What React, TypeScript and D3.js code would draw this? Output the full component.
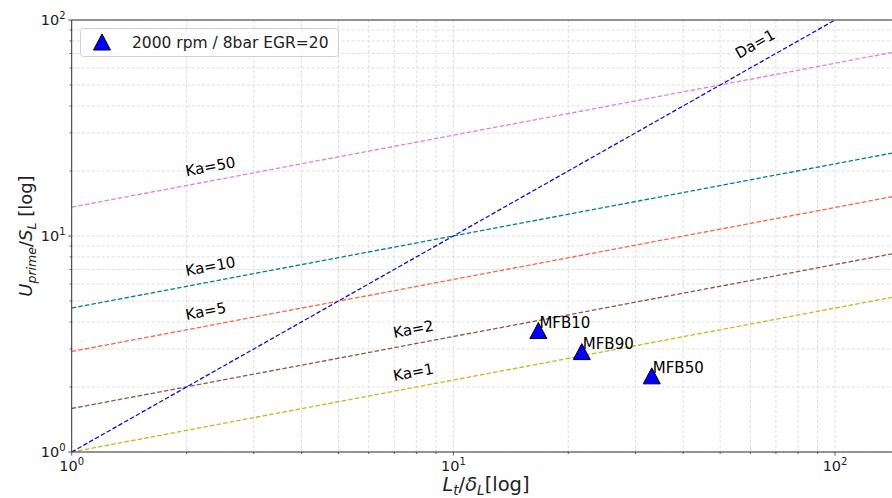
import React from "react";
import { scaleLog, line } from "d3";

// Ka iso-lines: values read at the left (x=1) and right (x≈141) edges
const kaLabels = ["Ka=1", "Ka=2", "Ka=5", "Ka=10", "Ka=50"];
const kaStart = [1, 1.59, 2.92, 4.64, 13.6];
const kaEnd = [5.2, 8.27, 15.2, 24.2, 70.7];
const kaColors = ["#bcbd22", "#8c564b", "#ff6347", "#008080", "#e47ee4"];
const kaLabelX = [7, 7, 2, 2, 2];
const kaLabelY = [2.13, 3.37, 4.08, 6.53, 18.9];

// Da=1 line
const daStart = [1, 1];
const daEnd = [141, 141];
const daLabelPos = [56, 66];

// measured points
const pointNames = ["MFB10", "MFB90", "MFB50"];
const pointX = [16.7, 21.7, 33.1];
const pointY = [3.63, 2.9, 2.24];

const legendText = "2000 rpm / 8bar EGR=20";
const xDomain = [1, 141];
const yDomain = [1, 100];
const majorTicks = [1, 10, 100];
const exps = ["0", "1", "2"];

const W = 892;
const H = 498;
const left = 71.7;
const right = 892;
const top = 20;
const bottom = 452;

export default function App() {
  const x = scaleLog().domain(xDomain).range([left, right]);
  const y = scaleLog().domain(yDomain).range([bottom, top]);
  const path = line<number[]>().x((d) => x(d[0])).y((d) => y(d[1]));

  const minorX: number[] = [];
  const minorY: number[] = [];
  [1, 10, 100].forEach((dec) => {
    for (let k = 2; k <= 9; k++) {
      if (dec * k <= xDomain[1]) minorX.push(dec * k);
      if (dec * k <= yDomain[1]) minorY.push(dec * k);
    }
  });

  const font = "'DejaVu Sans', sans-serif";
  const decadePx = (right - left) / Math.log10(xDomain[1]);
  const kaAngle = (-Math.atan(((1 / 3) * (bottom - top)) / 2 / decadePx) * 180) / Math.PI;
  const daAngle = (-Math.atan((bottom - top) / 2 / decadePx) * 180) / Math.PI;
  const tri = "M0,-8.5L8.5,7.5L-8.5,7.5Z";

  return (
    <div>
      <style>{`body{margin:0}`}</style>
      <svg width={W} height={H} style={{ display: "block", fontFamily: font }}>
        <rect width={W} height={H} fill="#fff" />
        <defs>
          <clipPath id="plot">
            <rect x={left} y={top} width={right - left} height={bottom - top} />
          </clipPath>
        </defs>

        {/* grid */}
        <g stroke="#d6d6d6" strokeWidth={0.8} strokeDasharray="3,2">
          {[...majorTicks, ...minorX].filter((v) => v <= xDomain[1]).map((v, i) => (
            <line key={"gx" + i} x1={x(v)} x2={x(v)} y1={top} y2={bottom} />
          ))}
          {[...majorTicks, ...minorY].map((v, i) => (
            <line key={"gy" + i} x1={left} x2={right} y1={y(v)} y2={y(v)} />
          ))}
        </g>

        {/* lines */}
        <g clipPath="url(#plot)" fill="none" strokeWidth={1.3} strokeDasharray="4.5,2.2">
          {kaLabels.map((k, i) => (
            <path key={k} d={path([[xDomain[0], kaStart[i]], [xDomain[1], kaEnd[i]]]) || ""} stroke={kaColors[i]} />
          ))}
          <path d={path([daStart, daEnd]) || ""} stroke="#1010cc" />
        </g>

        {/* line labels */}
        <g fontSize={15} fill="#000">
          {kaLabels.map((k, i) => (
            <text key={k} transform={`translate(${x(kaLabelX[i])},${y(kaLabelY[i])}) rotate(${kaAngle})`}>{k}</text>
          ))}
          <text transform={`translate(${x(daLabelPos[0])},${y(daLabelPos[1])}) rotate(${daAngle})`}>Da=1</text>
        </g>

        {/* points */}
        {pointNames.map((n, i) => (
          <g key={n}>
            <path d={tri} transform={`translate(${x(pointX[i])},${y(pointY[i])})`} fill="#0000ff" stroke="#000" strokeWidth={1} />
            <text x={x(pointX[i]) + 1} y={y(pointY[i]) - 3} fontSize={15}>{n}</text>
          </g>
        ))}

        {/* spines */}
        <g stroke="#333" strokeWidth={1}>
          <line x1={left} x2={left} y1={top} y2={bottom} />
          <line x1={left} x2={right} y1={bottom} y2={bottom} />
          <line x1={left} x2={right} y1={top} y2={top} />
        </g>

        {/* ticks */}
        <g stroke="#333" strokeWidth={0.8}>
          {majorTicks.map((v, i) => (
            <g key={"t" + i}>
              <line x1={x(v)} x2={x(v)} y1={bottom} y2={bottom + 3.5} />
              <line x1={left - 3.5} x2={left} y1={y(v)} y2={y(v)} />
            </g>
          ))}
          {minorX.map((v, i) => (
            <line key={"mx" + i} x1={x(v)} x2={x(v)} y1={bottom} y2={bottom + 2} />
          ))}
          {minorY.map((v, i) => (
            <line key={"my" + i} x1={left - 2} x2={left} y1={y(v)} y2={y(v)} />
          ))}
        </g>

        {/* tick labels */}
        <g fill="#222" fontSize={14.5}>
          {majorTicks.map((v, i) => (
            <text key={"xl" + i} x={x(v)} y={bottom + 19} textAnchor="middle">
              10<tspan dy={-6} fontSize={10}>{exps[i]}</tspan>
            </text>
          ))}
          {majorTicks.map((v, i) => (
            <text key={"yl" + i} x={left - 6} y={y(v) + 5} textAnchor="end">
              10<tspan dy={-6} fontSize={10}>{exps[i]}</tspan>
            </text>
          ))}
        </g>

        {/* axis labels */}
        <text x={486} y={491} textAnchor="middle" fontSize={19.5} fill="#222">
          <tspan fontStyle="italic">L</tspan>
          <tspan fontStyle="italic" fontSize={13.5} dy={4}>t</tspan>
          <tspan dy={-4}>/</tspan>
          <tspan fontStyle="italic">δ</tspan>
          <tspan fontStyle="italic" fontSize={13.5} dy={4}>L</tspan>
          <tspan dy={-4}>[log]</tspan>
        </text>
        <text transform={`translate(32,236) rotate(-90)`} textAnchor="middle" fontSize={18} fill="#222">
          <tspan fontStyle="italic">U</tspan>
          <tspan fontStyle="italic" fontSize={12.5} dy={4}>prime</tspan>
          <tspan dy={-4}>/</tspan>
          <tspan fontStyle="italic">S</tspan>
          <tspan fontStyle="italic" fontSize={12.5} dy={4}>L</tspan>
          <tspan dy={-4}> [log]</tspan>
        </text>

        {/* legend */}
        <g>
          <rect x={80.5} y={28.5} width={258} height={28} rx={3} fill="#fff" fillOpacity={0.85} stroke="#d0d0d0" />
          <path d={tri} transform="translate(102,42.5)" fill="#0000ff" stroke="#000" strokeWidth={1} />
          <text x={132} y={48} fontSize={15.5} fill="#222">{legendText}</text>
        </g>
      </svg>
    </div>
  );
}
